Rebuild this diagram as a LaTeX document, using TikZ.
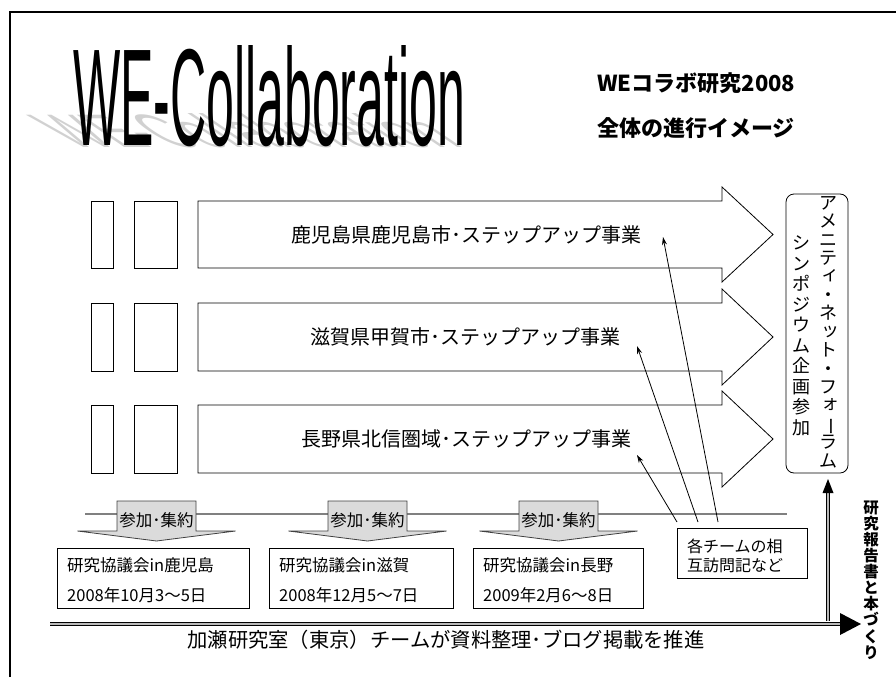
\documentclass[tikz,border=0pt]{standalone}
\usepackage{fontspec}
\usepackage{graphicx}
\setmainfont{Noto Sans CJK JP}
\newfontfamily\titlefont{Liberation Sans}
\usetikzlibrary{arrows.meta}
\newcommand{\sk}[1]{\makebox[1em]{\hspace{0.25em}\raisebox{0.12em}{#1}}}
\newcommand{\vbar}{\makebox[1em]{\smash{\rotatebox[origin=c]{-90}{ー}}}}
\begin{document}
\begin{tikzpicture}[x=1pt,y=-1pt,line join=miter,
  frame/.style={line width=1.6pt},
  box/.style={draw,line width=0.8pt},
  bigarrow/.style={draw,line width=0.8pt,fill=white},
  conn/.style={line width=0.8pt,-{Stealth[length=8pt,width=5pt]}},
  grayline/.style={draw=gray,line width=1.2pt},
  joinarrow/.style={draw=black!75,fill=black!14,line width=0.8pt},
  dbl/.style={line width=1.1pt,double=gray!55,double distance=2.6pt},
  txt/.style={inner sep=0pt},
  lbl/.style={inner sep=0pt,font=\fontsize{20}{20}\selectfont},
  small/.style={inner sep=0pt,anchor=west,font=\fontsize{16.5}{16.5}\selectfont},
  ttl/.style={inner sep=0pt,anchor=base west,font={\titlefont\fontsize{138}{140}\selectfont}}]
\useasboundingbox (0,0) rectangle (896,677);
% frame
\draw[frame] (10,677) -- (10,12) -- (896,12);
% title with shadow
\node[ttl,text=black!18,cm={0.3626,0,-0.5,0.34,(0,0)}] (shadow) at (73,147) {WE-Collaboration};
\node[ttl,xscale=0.3626] (title) at (73,145) {WE-Collaboration};
% header
\node[txt,anchor=west,font=\bfseries\fontsize{22}{22}\selectfont] (h1) at (597,83) {WEコラボ研究2008};
\node[txt,anchor=west,font=\bfseries\fontsize{22}{22}\selectfont] (h2) at (597,128) {全体の進行イメージ};
% rows
\foreach \t/\b in {201/268,303/371,405/473}{
  \draw[box] (91,\t) rectangle (113,\b);
  \draw[box] (134,\t) rectangle (177,\b);
  \draw[bigarrow] (198,\t) -- (722,\t) -- (722,\t-14) -- (773,{(\t+\b)/2}) -- (722,\b+14) -- (722,\b) -- (198,\b) -- cycle;
}
\node[lbl] (r1) at (466,234.5) {鹿児島県鹿児島市･ステップアップ事業};
\node[lbl] (r2) at (465,337) {滋賀県甲賀市･ステップアップ事業};
\node[lbl] (r3) at (466,439) {長野県北信圏域･ステップアップ事業};
\coordinate (t1) at (663,237);
\coordinate (t2) at (637,346);
\coordinate (t3) at (637,455);
% vertical box
\node[draw,line width=0.8pt,rounded corners=8pt,minimum width=62pt,minimum height=279pt,inner sep=0pt] (amen) at (817,333.5) {};
\node[txt,align=center,font=\fontsize{18}{18.4}\selectfont] (v1) at (828,332) {ア\\メ\\ニ\\テ\\\sk{ィ}\\・\\ネ\\\sk{ッ}\\ト\\・\\フ\\\sk{ォ}\\\vbar\\ラ\\ム};
\node[txt,align=center,font=\fontsize{18}{20.5}\selectfont] (v2) at (801,336) {シ\\ン\\ポ\\ジ\\ウ\\ム\\企\\画\\参\\加};
% gray line and join arrows
\draw[grayline] (85,514) -- (787,514);
\foreach \c/\n in {156.5/j1,367.5/j2,558.5/j3}{
  \draw[joinarrow] (\c-39.5,501) -- (\c+39.5,501) -- (\c+39.5,531) -- (\c+79,531) -- (\c,541) -- (\c-79,531) -- (\c-39.5,531) -- cycle;
  \node[txt,font=\fontsize{16.5}{16.5}\selectfont] (\n) at (\c,520) {参加･集約};
}
% meeting boxes
\draw[box] (57,548) rectangle (249,608);
\node[small] (m1a) at (67,565) {研究協議会in鹿児島};
\node[small] (m1b) at (67,595) {2008年10月3〜5日};
\draw[box] (269,548) rectangle (453,608);
\node[small] (m2a) at (279,565) {研究協議会in滋賀};
\node[small] (m2b) at (279,595) {2008年12月5〜7日};
\draw[box] (473,548) rectangle (643,608);
\node[small] (m3a) at (483,565) {研究協議会in長野};
\node[small] (m3b) at (483,595) {2009年2月6〜8日};
% team box
\node[box,minimum width=130pt,minimum height=50pt,inner sep=0pt] (team) at (742,553) {};
\node[small,font=\fontsize{16}{18}\selectfont] (tm1) at (687,546) {各チームの相};
\node[small,font=\fontsize{16}{18}\selectfont] (tm2) at (687,565) {互訪問記など};
\coordinate (c1) at (677,522);
\coordinate (c2) at (698,522);
\coordinate (c3) at (718,522);
\draw[conn] (c1) -- (t3);
\draw[conn] (c2) -- (t2);
\draw[conn] (c3) -- (t1);
% bottom double arrows
\coordinate (vs) at (828,621);
\coordinate (ve) at (828,492);
\coordinate (hs) at (50,624);
\coordinate (he) at (840,624);
\draw[dbl] (vs) -- (ve);
\fill (822.5,493) -- (828,479) -- (833.5,493) -- cycle;
\draw[dbl] (hs) -- (he);
\fill (840,613) -- (861,624) -- (840,635) -- cycle;
\node[txt,font=\fontsize{20.3}{20.3}\selectfont] (kase) at (446,640) {加瀬研究室（東京）チームが資料整理･ブログ掲載を推進};
\node[txt,align=center,font=\bfseries\fontsize{15.5}{16.1}\selectfont] (rep) at (871,580) {研\\究\\報\\告\\書\\と\\本\\づ\\く\\り};
\end{tikzpicture}
\end{document}
